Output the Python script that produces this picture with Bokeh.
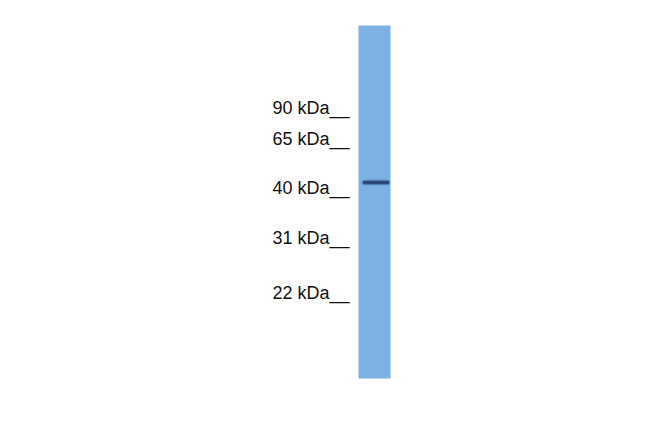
from bokeh.plotting import figure
from bokeh.models import Range1d
from bokeh.embed import file_html
from bokeh.resources import INLINE
from bokeh.core.properties import value

# Marker ladder (labels and their vertical positions on the blot, in image px)
marker_labels = ["90 kDa__", "65 kDa__", "40 kDa__", "31 kDa__", "22 kDa__"]
marker_y = [107, 138, 187, 237, 292]

# Lane extent (image px)
lane_left = [358]
lane_right = [390]
lane_top = [25]
lane_bottom = [378]

# Detected band(s)
band_y = [182]
band_x0 = [364]
band_x1 = [387]

p = figure(width=634, height=417, output_backend="svg", toolbar_location=None,
           x_range=Range1d(0, 634), y_range=Range1d(417, 0), min_border=0)
p.axis.visible = False
p.grid.visible = False
p.outline_line_color = None
p.background_fill_color = "white"
p.border_fill_color = "white"

p.quad(left=lane_left, right=lane_right, top=lane_top, bottom=lane_bottom,
       fill_color="#7db0e3", line_color=None)

# soft band: layered strokes
for w, a in [(6, 0.25), (4, 0.5), (2.5, 0.9)]:
    p.segment(x0=band_x0, y0=band_y, x1=band_x1, y1=band_y,
              line_color="#1f3e6e", line_width=w, line_alpha=a, line_cap="round")

p.text(x=[272] * len(marker_labels), y=marker_y, text=marker_labels,
       text_font=value("Liberation Sans"), text_font_size="18px",
       text_color="#111111", text_baseline="alphabetic", text_align="left")

open("out.html", "w").write(file_html(p, INLINE))
